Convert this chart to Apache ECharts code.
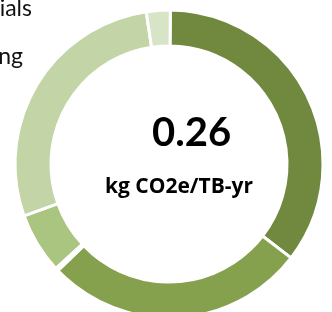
<!DOCTYPE html>
<html>
<head>
<meta charset="utf-8">
<script src="https://cdn.jsdelivr.net/npm/echarts@6/dist/echarts.min.js"></script>
<style>
  html, body { margin: 0; padding: 0; background: #fff; }
  #chart { width: 332px; height: 312px; }
</style>
</head>
<body>
<div id="chart"></div>
<script>
// share of footprint by stage (percent)
var stages = ['Operation', 'Manufacturing', 'Other', 'Transport', 'Materials', 'End of life'];
var shares = [35.3, 27.4, 0.3, 6.4, 28.1, 2.5];
var colors = ['#71893F', '#86A14D', '#A5C07A', '#AAC57F', '#C3D5A6', '#D8E4C6'];
var totalText = '0.26';
var unitText = 'kg CO2e/TB-yr';

var chart = echarts.init(document.getElementById('chart'));
var option = {
  animation: false,
  series: [
    {
      type: 'pie',
      center: [169, 164],
      radius: [118, 154],
      startAngle: 89.5,
      clockwise: true,
      label: { show: false },
      labelLine: { show: false },
      itemStyle: {
        borderColor: '#ffffff',
        borderWidth: 3
      },
      data: stages.map(function (name, i) {
        return { name: name, value: shares[i], itemStyle: { color: colors[i] } };
      })
    }
  ],
  graphic: [
    {
      type: 'text',
      left: 152, top: 113,
      style: { text: totalText, font: 'bold 40px Lato', fill: '#000' }
    },
    {
      type: 'text',
      left: 105, top: 177,
      style: { text: unitText, font: 'bold 21px "Open Sans"', fill: '#000' }
    },
    {
      type: 'text',
      right: 300, top: -3,
      style: { text: 'Materials', font: '23px Lato', fill: '#111' }
    },
    {
      type: 'text',
      right: 309, top: 45,
      style: { text: 'Manufacturing', font: '23px Lato', fill: '#111' }
    }
  ]
};
chart.setOption(option);
</script>
</body>
</html>
